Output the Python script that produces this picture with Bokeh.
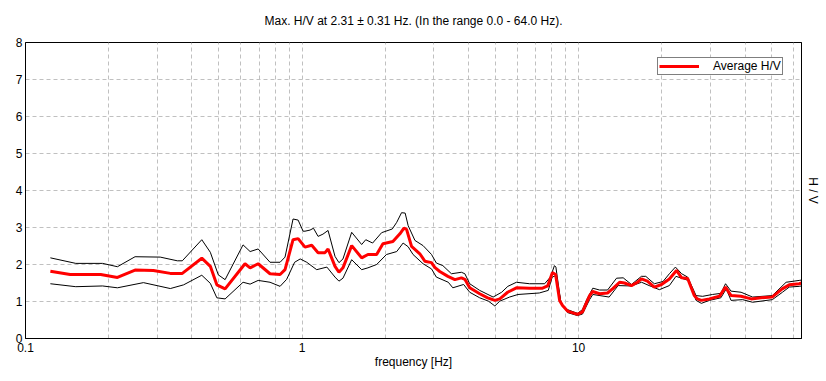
from bokeh.plotting import figure
from bokeh.models import LinearAxis, FixedTicker, Range1d
from bokeh.embed import file_html
from bokeh.resources import INLINE

title_text = "Max. H/V at 2.31 \u00b1 0.31 Hz. (In the range 0.0 - 64.0 Hz)."
x_label = "frequency [Hz]"
y_label = "H / V"
legend_text = "Average H/V"

x_major_ticks = [0.1, 1, 10]
x_minor_ticks = [0.2, 0.3, 0.4, 0.5, 0.6, 0.7, 0.8, 0.9,
                 2, 3, 4, 5, 6, 7, 8, 9, 20, 30, 40, 50, 60]
y_ticks = [0, 1, 2, 3, 4, 5, 6, 7, 8]

avg_f = [0.123, 0.145, 0.187, 0.215, 0.249, 0.290, 0.334, 0.369, 0.434, 0.466,
         0.492, 0.527, 0.622, 0.649, 0.694, 0.766, 0.833, 0.868, 0.928, 0.968,
         1.025, 1.084, 1.143, 1.211, 1.242, 1.316, 1.360, 1.406, 1.512, 1.643,
         1.731, 1.861, 1.961, 2.131, 2.259, 2.336, 2.388, 2.489, 2.667, 2.780,
         2.938, 3.02, 3.148, 3.37, 3.57, 3.77, 3.88, 4.04, 4.39, 4.69,
         4.98, 5.19, 5.54, 5.96, 6.65, 7.41, 7.73, 8.04, 8.26, 8.54,
         8.75, 9.12, 9.91, 10.33, 10.96, 11.24, 11.91, 12.73, 13.27, 14.07,
         14.66, 15.53, 16.33, 16.88, 17.74, 18.79, 19.95, 21.3, 22.6, 23.6,
         24.8, 26.2, 26.9, 27.8, 29.7, 32.3, 34.0, 35.6, 38.7, 42.1,
         45.7, 50.1, 54.5, 57.8, 62.8, 64.0]
avg_hv = [1.82, 1.73, 1.73, 1.65, 1.85, 1.84, 1.76, 1.76, 2.17, 1.95,
          1.45, 1.34, 2.02, 1.91, 2.02, 1.75, 1.73, 1.86, 2.67, 2.70,
          2.47, 2.52, 2.32, 2.32, 2.42, 1.95, 1.79, 1.91, 2.51, 2.18,
          2.27, 2.27, 2.56, 2.62, 2.83, 2.98, 2.95, 2.49, 2.29, 2.09,
          2.05, 1.92, 1.81, 1.68, 1.59, 1.64, 1.60, 1.37, 1.21, 1.10,
          1.03, 1.07, 1.25, 1.37, 1.36, 1.36, 1.42, 1.78, 1.73, 1.03,
          0.89, 0.74, 0.65, 0.72, 1.16, 1.27, 1.21, 1.23, 1.34, 1.52,
          1.50, 1.43, 1.52, 1.61, 1.55, 1.39, 1.46, 1.61, 1.84, 1.64,
          1.62, 1.16, 1.07, 1.03, 1.07, 1.14, 1.39, 1.16, 1.14, 1.07,
          1.10, 1.12, 1.34, 1.45, 1.48, 1.50]

upper_f = [0.123, 0.152, 0.190, 0.215, 0.249, 0.307, 0.354, 0.369, 0.434, 0.466,
           0.498, 0.527, 0.612, 0.649, 0.694, 0.766, 0.833, 0.868, 0.928, 0.968,
           1.009, 1.025, 1.069, 1.10, 1.143, 1.19, 1.242, 1.316, 1.360, 1.406,
           1.512, 1.643, 1.70, 1.80, 1.94, 2.12, 2.20, 2.29, 2.36, 2.42,
           2.56, 2.74, 2.94, 3.06, 3.23, 3.47, 3.77, 3.88, 4.04, 4.39,
           4.91, 5.27, 5.55, 5.96, 6.65, 7.54, 7.91, 8.18, 8.28, 8.64,
           8.75, 9.12, 9.91, 10.33, 10.7, 11.26, 11.91, 12.73, 13.72, 14.5,
           15.53, 16.88, 17.5, 18.79, 20.2, 21.3, 22.4, 23.6, 24.8, 25.3,
           26.6, 28.1, 30.5, 32.7, 34.0, 35.6, 38.7, 42.6, 50.2, 56.3,
           62.8, 64.0]
upper_hv = [2.18, 2.03, 2.03, 1.94, 2.21, 2.20, 2.10, 2.10, 2.67, 2.33,
            1.72, 1.59, 2.53, 2.35, 2.42, 2.06, 2.06, 2.20, 3.23, 3.20,
            2.90, 2.90, 2.93, 2.98, 2.76, 2.82, 2.92, 2.22, 2.05, 2.15,
            2.87, 2.54, 2.67, 2.58, 2.86, 2.96, 3.14, 3.40, 3.39, 3.05,
            2.65, 2.51, 2.27, 2.04, 1.97, 1.75, 1.79, 1.75, 1.48, 1.30,
            1.12, 1.25, 1.41, 1.52, 1.48, 1.48, 1.66, 1.97, 1.93, 0.94,
            0.92, 0.78, 0.68, 0.78, 1.05, 1.36, 1.31, 1.31, 1.63, 1.64,
            1.46, 1.68, 1.68, 1.48, 1.54, 1.75, 1.93, 1.75, 1.66, 1.52,
            1.16, 1.14, 1.19, 1.22, 1.48, 1.28, 1.25, 1.12, 1.16, 1.52,
            1.57, 1.58]

lower_f = [0.123, 0.152, 0.190, 0.215, 0.267, 0.334, 0.373, 0.434, 0.466, 0.492,
           0.527, 0.612, 0.649, 0.694, 0.766, 0.833, 0.88, 0.94, 0.985, 1.04,
           1.13, 1.23, 1.316, 1.360, 1.406, 1.512, 1.643, 1.731, 1.861, 2.02,
           2.20, 2.32, 2.42, 2.52, 2.74, 2.94, 3.06, 3.38, 3.51, 3.84,
           4.04, 4.39, 4.72, 4.98, 5.19, 5.63, 6.04, 7.21, 7.77, 8.03,
           8.28, 8.64, 9.12, 9.91, 10.33, 10.96, 11.26, 12.9, 13.9, 15.5,
           16.9, 18.0, 19.6, 21.3, 22.5, 24.9, 25.3, 26.6, 27.8, 29.7,
           32.7, 34.2, 35.6, 39.2, 42.6, 50.2, 54.6, 57.8, 62.8, 64.0]
lower_hv = [1.48, 1.40, 1.42, 1.37, 1.51, 1.35, 1.45, 1.71, 1.49, 1.10,
            1.07, 1.52, 1.47, 1.57, 1.52, 1.41, 1.60, 2.06, 2.15, 2.06,
            1.86, 1.93, 1.66, 1.55, 1.63, 2.13, 1.86, 1.91, 2.00, 2.27,
            2.35, 2.58, 2.48, 2.27, 2.02, 1.88, 1.66, 1.52, 1.37, 1.46,
            1.25, 1.10, 1.01, 0.88, 1.01, 1.12, 1.19, 1.23, 1.30, 1.66,
            1.70, 0.98, 0.70, 0.62, 0.66, 1.05, 1.19, 1.12, 1.43, 1.42,
            1.52, 1.43, 1.32, 1.43, 1.68, 1.57, 1.48, 1.03, 0.95, 1.03,
            1.10, 1.34, 1.03, 1.05, 0.98, 1.05, 1.25, 1.39, 1.41, 1.42]

FONT = "Liberation Sans"

p = figure(width=826, height=381, x_axis_type="log",
           x_range=Range1d(0.1, 64), y_range=Range1d(0, 8),
           output_backend="svg", toolbar_location=None,
           min_border_left=25, min_border_right=25,
           min_border_top=42, min_border_bottom=43,
           background_fill_color="white", border_fill_color="white")

p.title.text = title_text
p.title.align = "center"
p.title.vertical_align = "top"
p.title.text_font = FONT
p.title.text_font_size = "12px"
p.title.text_font_style = "normal"
p.title.text_color = "black"
p.title.standoff = 26

p.outline_line_color = "black"
p.outline_line_width = 1

xt = FixedTicker(ticks=x_major_ticks, minor_ticks=x_minor_ticks)
yt = FixedTicker(ticks=y_ticks)
p.xaxis.ticker = xt
p.xgrid.ticker = xt
p.yaxis.ticker = yt
p.ygrid.ticker = yt
p.xaxis.major_label_overrides = {0.1: "0.1", 1: "1", 10: "10"}
for ax in (p.xaxis[0], p.yaxis[0]):
    ax.axis_line_color = "black"
    ax.major_tick_in = 0
    ax.major_tick_out = 0
    ax.minor_tick_in = 0
    ax.minor_tick_out = 0
    ax.major_label_text_font = FONT
    ax.major_label_text_font_size = "12px"
    ax.major_label_text_color = "black"
    ax.axis_label_text_font = FONT
    ax.axis_label_text_font_size = "12px"
    ax.axis_label_text_font_style = "normal"
    ax.axis_label_text_color = "black"
p.xaxis.major_label_standoff = 4
p.yaxis.major_label_standoff = 3
p.xaxis.axis_label = x_label
p.xaxis.axis_label_standoff = 0

p.xgrid.grid_line_color = "#c0c0c0"
p.xgrid.grid_line_dash = "4 3"
p.xgrid.minor_grid_line_color = "#c0c0c0"
p.xgrid.minor_grid_line_dash = "4 3"
p.ygrid.grid_line_color = "#c0c0c0"
p.ygrid.grid_line_dash = "4 3"

right = LinearAxis(ticker=FixedTicker(ticks=[]), axis_label=y_label)
right.axis_line_color = "black"
right.major_tick_in = 0
right.major_tick_out = 0
right.minor_tick_in = 0
right.minor_tick_out = 0
right.major_label_standoff = 0
right.axis_label_standoff = 4
right.axis_label_text_font = FONT
right.axis_label_text_font_size = "12px"
right.axis_label_text_font_style = "normal"
right.axis_label_text_color = "black"
p.add_layout(right, "right")

p.line(upper_f, upper_hv, line_color="black", line_width=1)
p.line(lower_f, lower_hv, line_color="black", line_width=1)
p.line(avg_f, avg_hv, line_color="#ff0000", line_width=3, legend_label=legend_text)

lg = p.legend[0]
lg.location = (632, 263)
lg.border_line_color = "black"
lg.border_line_width = 1
lg.background_fill_color = "white"
lg.background_fill_alpha = 1
lg.padding = 1
lg.spacing = 0
lg.margin = 0
lg.glyph_width = 40
lg.glyph_height = 10
lg.label_height = 10
lg.label_standoff = 14
lg.label_text_font = FONT
lg.label_text_font_size = "12px"
lg.label_text_color = "black"

open("out.html", "w").write(file_html(p, INLINE))
